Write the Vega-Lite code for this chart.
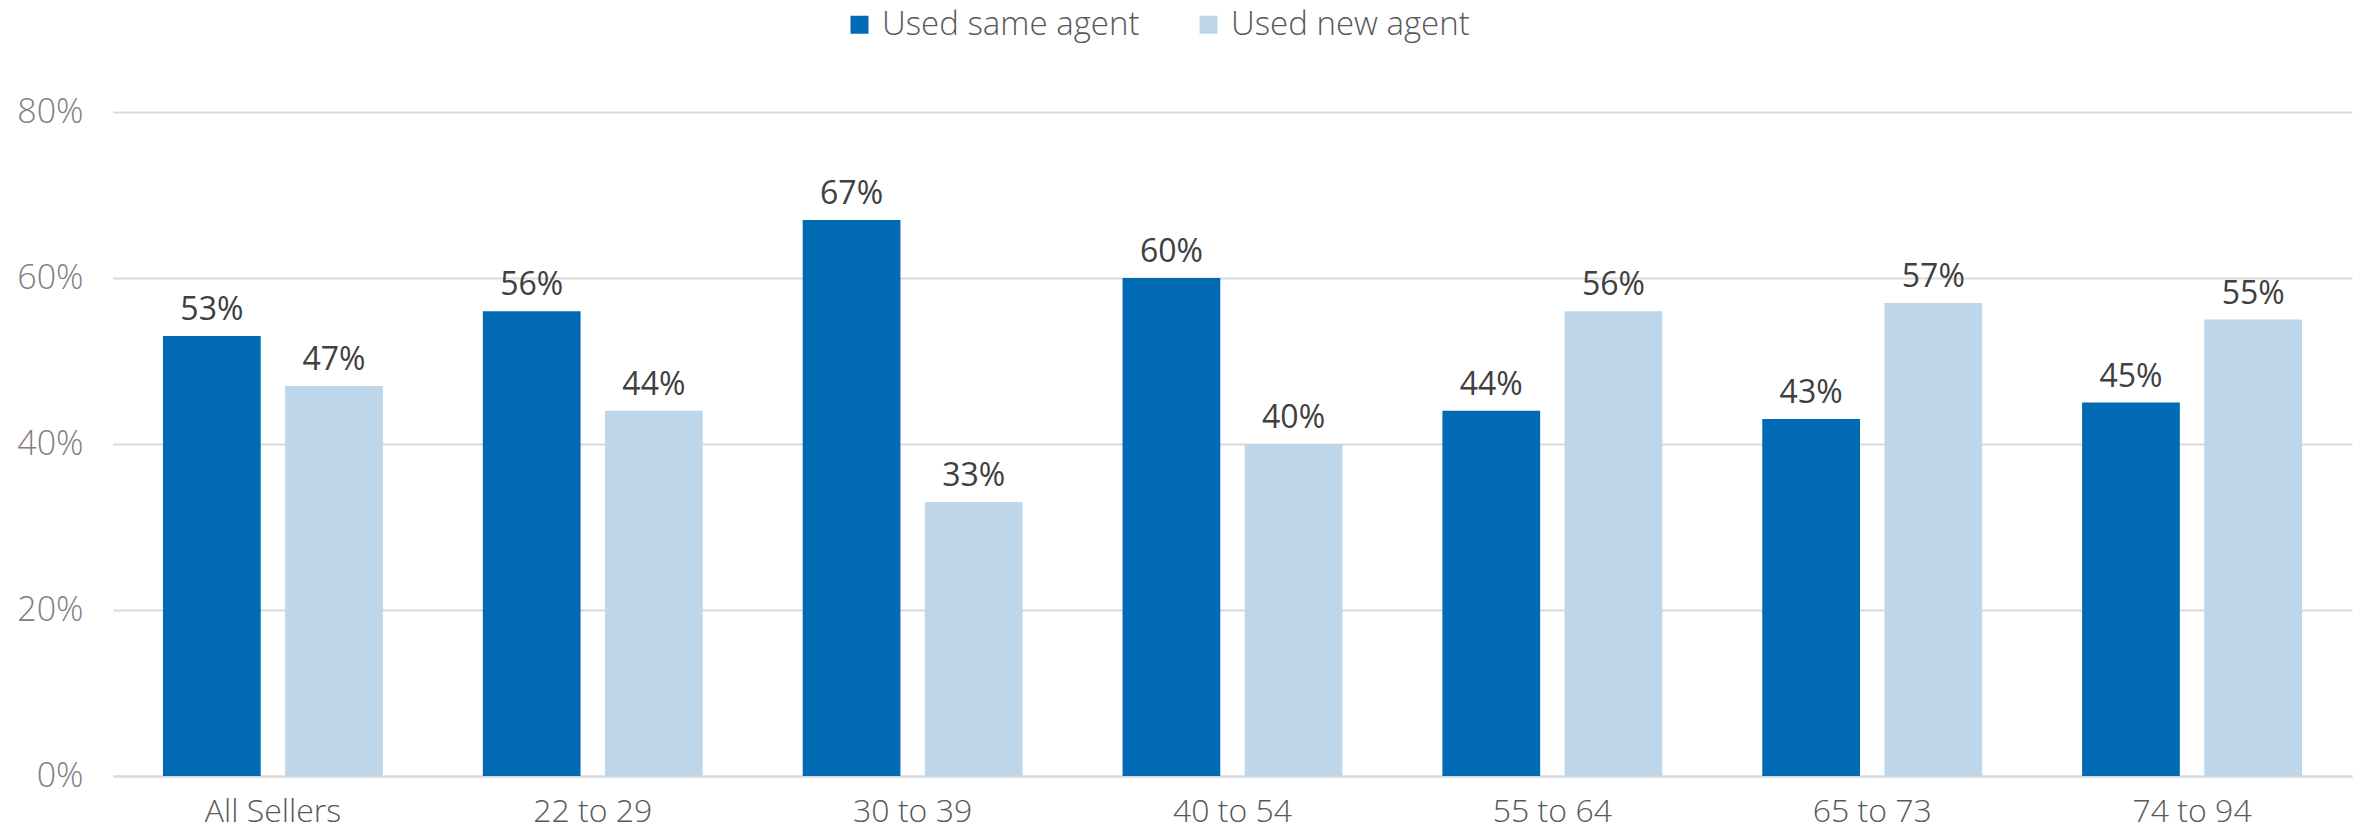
{
  "$schema": "https://vega.github.io/schema/vega-lite/v6.json",
  "autosize": "none",
  "width": 2239,
  "height": 664,
  "padding": {"left": 113, "top": 112, "right": 12, "bottom": 58},
  "background": "white",
  "config": {
    "view": {"stroke": null},
    "font": "Open Sans"
  },
  "data": {
    "values": [
      {"group": "All Sellers", "series": "Used same agent", "value": 0.53},
      {"group": "All Sellers", "series": "Used new agent", "value": 0.47},
      {"group": "22 to 29", "series": "Used same agent", "value": 0.56},
      {"group": "22 to 29", "series": "Used new agent", "value": 0.44},
      {"group": "30 to 39", "series": "Used same agent", "value": 0.67},
      {"group": "30 to 39", "series": "Used new agent", "value": 0.33},
      {"group": "40 to 54", "series": "Used same agent", "value": 0.60},
      {"group": "40 to 54", "series": "Used new agent", "value": 0.40},
      {"group": "55 to 64", "series": "Used same agent", "value": 0.44},
      {"group": "55 to 64", "series": "Used new agent", "value": 0.56},
      {"group": "65 to 73", "series": "Used same agent", "value": 0.43},
      {"group": "65 to 73", "series": "Used new agent", "value": 0.57},
      {"group": "74 to 94", "series": "Used same agent", "value": 0.45},
      {"group": "74 to 94", "series": "Used new agent", "value": 0.55}
    ]
  },
  "encoding": {
    "x": {
      "field": "group", "type": "nominal", "sort": null,
      "scale": {"paddingInner": 0.3125, "paddingOuter": 0.15625},
      "axis": {
        "title": null, "labelAngle": 0, "labelFontSize": 32, "labelColor": "#595959",
        "labelPadding": 20, "ticks": false, "domain": true, "domainColor": "#d9d9d9", "domainWidth": 2,
        "labelFontWeight": 300, "labelLimit": 0
      }
    },
    "xOffset": {
      "field": "series", "type": "nominal",
      "sort": ["Used same agent", "Used new agent"],
      "scale": {"paddingInner": 0.2}
    },
    "y": {
      "field": "value", "type": "quantitative",
      "scale": {"domain": [0, 0.8]},
      "axis": {
        "title": null, "values": [0, 0.2, 0.4, 0.6, 0.8], "format": ".0%",
        "labelFontSize": 34, "labelColor": "#7f7f7f", "labelPadding": 30,
        "ticks": false, "domain": false, "gridColor": "#d9d9d9", "gridWidth": 2,
        "labelFontWeight": 300
      }
    }
  },
  "layer": [
    {
      "mark": {"type": "bar"},
      "encoding": {
        "color": {
          "field": "series", "type": "nominal",
          "sort": ["Used same agent", "Used new agent"],
          "scale": {"domain": ["Used same agent", "Used new agent"], "range": ["#006ab5", "#bed6ea"]},
          "legend": {
            "title": null, "orient": "none", "direction": "horizontal",
            "legendX": 730, "legendY": -104,
            "symbolType": "square", "symbolSize": 324, "symbolStrokeWidth": 0,
            "labelFontSize": 33, "labelColor": "#595959", "labelFontWeight": 300,
            "labelOffset": 6, "columnPadding": 52, "labelLimit": 0
          }
        }
      }
    },
    {
      "mark": {"type": "text", "baseline": "alphabetic", "dy": -16, "fontSize": 32, "color": "#404040"},
      "encoding": {
        "text": {"field": "value", "type": "quantitative", "format": ".0%"}
      }
    }
  ]
}
